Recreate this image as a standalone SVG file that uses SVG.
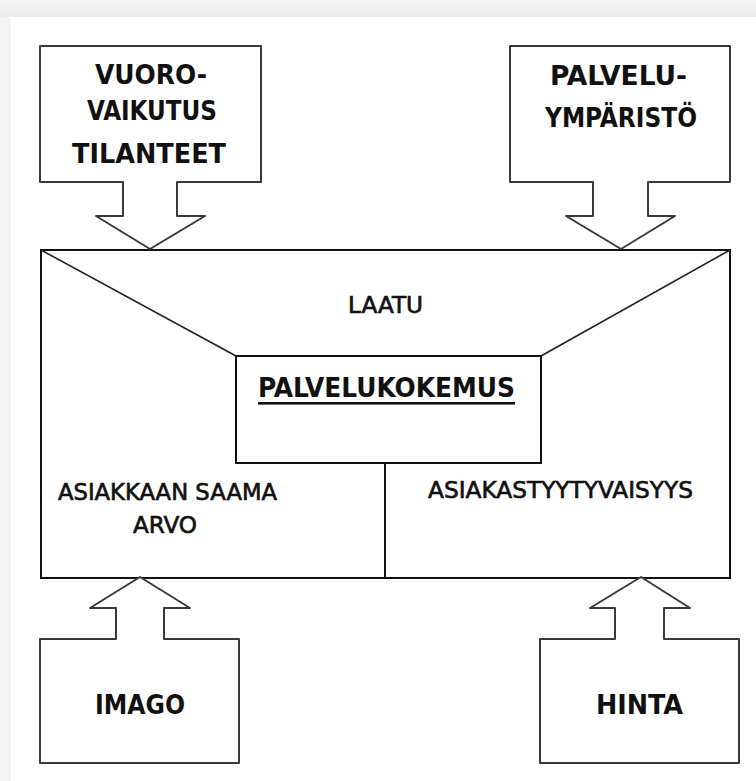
<svg xmlns="http://www.w3.org/2000/svg" width="756" height="781" viewBox="0 0 756 781">
  <defs>
    <linearGradient id="topShade" x1="0" y1="0" x2="0" y2="1">
      <stop offset="0" stop-color="#f6f6f6"/>
      <stop offset="1" stop-color="#ebebeb"/>
    </linearGradient>
    <style>
      .callout { fill: #ffffff; stroke: #3a3a3a; stroke-width: 2; stroke-linejoin: round; }
      .frame { fill: none; stroke: #111111; stroke-width: 2; }
      .thin { fill: none; stroke: #222222; stroke-width: 1.6; }
      text { font-family: "DejaVu Sans Condensed", "DejaVu Sans", sans-serif; fill: #111111; text-anchor: middle; }
      .big { font-size: 27px; font-weight: bold; }
      .mid { font-size: 23px; stroke: #111111; stroke-width: 0.6; }
    </style>
  </defs>

  <!-- page background with soft margins -->
  <rect x="0" y="0" width="756" height="781" fill="#ffffff"/>
  <rect x="0" y="0" width="756" height="17" fill="url(#topShade)"/>
  <rect x="0" y="17" width="11" height="764" fill="#f3f3f3"/>

  <!-- central frame -->
  <g id="frame">
    <rect class="frame" x="41" y="250" width="689" height="328"/>
    <line class="thin" x1="41" y1="250" x2="236" y2="356"/>
    <line class="thin" x1="730" y1="250" x2="541" y2="356"/>
    <line class="frame" x1="385" y1="463" x2="385" y2="578"/>
    <text class="mid" x="385.5" y="313" textLength="75" lengthAdjust="spacingAndGlyphs">LAATU</text>
    <text class="mid" x="167.5" y="500" textLength="219" lengthAdjust="spacingAndGlyphs">ASIAKKAAN SAAMA</text>
    <text class="mid" x="165" y="533" textLength="64" lengthAdjust="spacingAndGlyphs">ARVO</text>
    <text class="mid" x="560.5" y="498" textLength="265" lengthAdjust="spacingAndGlyphs">ASIAKASTYYTYVAISYYS</text>
  </g>

  <!-- core node -->
  <g id="palvelukokemus">
    <rect class="frame" x="236" y="356" width="305" height="107" fill="#ffffff"/>
    <text class="big" x="386.5" y="397" textLength="257" lengthAdjust="spacingAndGlyphs">PALVELUKOKEMUS</text>
    <rect x="258" y="402" width="257" height="2.6" fill="#111111"/>
  </g>

  <!-- inputs with their block arrows -->
  <g id="connectors">
    <g id="vuorovaikutus">
      <path class="callout" d="M40,46 H261 V182 H177 V216 H205 L150,249 L96,216 H123 V182 H40 Z"/>
      <text class="big" x="151" y="84" textLength="112" lengthAdjust="spacingAndGlyphs">VUORO-</text>
      <text class="big" x="152" y="120" textLength="130" lengthAdjust="spacingAndGlyphs">VAIKUTUS</text>
      <text class="big" x="149" y="163" textLength="154" lengthAdjust="spacingAndGlyphs">TILANTEET</text>
    </g>
    <g id="palveluymparisto">
      <path class="callout" d="M510,46 H730 V182 H648 V216 H675 L621,249 L566,216 H593 V182 H510 Z"/>
      <text class="big" x="618.5" y="85" textLength="137" lengthAdjust="spacingAndGlyphs">PALVELU-</text>
      <text class="big" x="621" y="127" textLength="152" lengthAdjust="spacingAndGlyphs">YMPÄRISTÖ</text>
    </g>
    <g id="imago">
      <path class="callout" d="M40,763 V639 H116 V608 H90 L140,577 L190,608 H164 V639 H239 V763 Z"/>
      <text class="big" x="140" y="714" textLength="90" lengthAdjust="spacingAndGlyphs">IMAGO</text>
    </g>
    <g id="hinta">
      <path class="callout" d="M540,763 V639 H615 V608 H590 L641,577 L690,608 H664 V639 H739 V763 Z"/>
      <text class="big" x="639.5" y="714" textLength="87" lengthAdjust="spacingAndGlyphs">HINTA</text>
    </g>
  </g>
</svg>
